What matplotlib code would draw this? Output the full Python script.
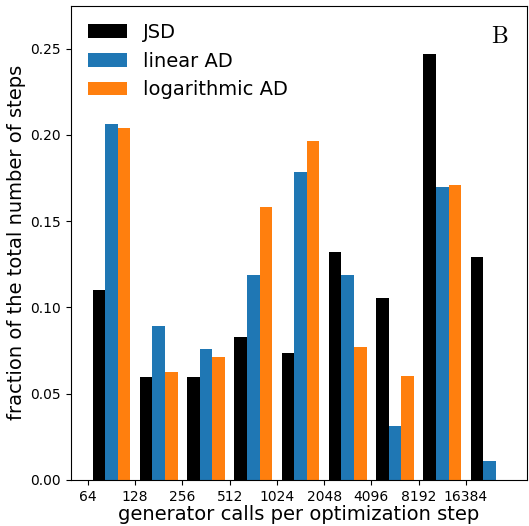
import numpy as np
import matplotlib
matplotlib.use("Agg")
from matplotlib import pyplot as plt

plt.rcParams['mathtext.fontset'] = 'cm'

# bins are powers of two: 2^6 ... 2^14, each bin spans [2^k, 2^(k+1))
exponents = np.arange(6, 15)
tick_labels = [str(2 ** k) for k in exponents]

jsd = [0.110, 0.0595, 0.0595, 0.0830, 0.0738, 0.1319, 0.1053, 0.2468, 0.1290]
linear_ad = [0.2061, 0.0890, 0.0757, 0.1186, 0.1784, 0.1186, 0.0315, 0.1701, 0.0112]
log_ad = [0.2038, 0.0628, 0.0711, 0.1580, 0.1962, 0.0769, 0.0601, 0.1707, 0.0]

fig = plt.figure(figsize=(5.29, 5.26), dpi=100)
ax = fig.add_axes([0.134, 0.0875, 0.862, 0.902])

w = 0.8 / 3
left = exponents + 0.1
ax.bar(left, jsd, width=w, align='edge', color='black', label='JSD')
ax.bar(left + w, linear_ad, width=w, align='edge', color='#1f77b4', label='linear AD')
ax.bar(left + 2 * w, log_ad, width=w, align='edge', color='#ff7f0e', label='logarithmic AD')

ax.set_xticks(exponents)
ax.set_xticklabels(tick_labels)
ax.set_xlim(5.64, 15.29)
ax.set_ylim(0, 0.275)
ax.set_yticks([0, 0.05, 0.10, 0.15, 0.20, 0.25])
ax.tick_params(labelsize=10)

ax.set_xlabel('generator calls per optimization step', fontsize=14, labelpad=1)
ax.set_ylabel('fraction of the total number of steps', fontsize=14, labelpad=3)
ax.legend(loc='upper left', frameon=False, fontsize=14)
ax.text(0.94, 0.935, r'$\mathrm{B}$', transform=ax.transAxes, fontsize=17,
        ha='center', va='center')

fig.savefig('out.png', dpi=100)
